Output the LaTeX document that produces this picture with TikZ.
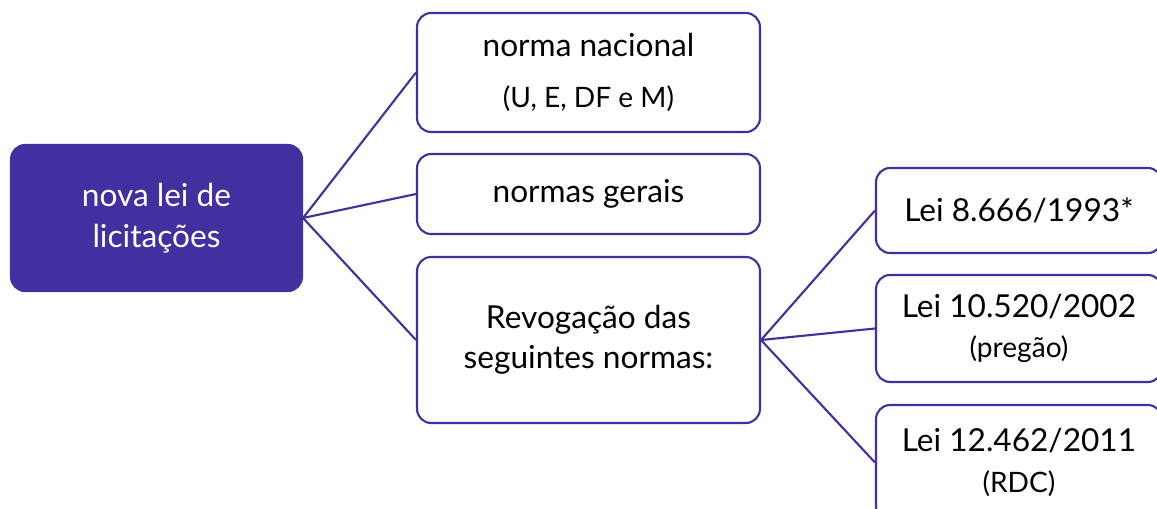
\documentclass[tikz,border=0pt]{standalone}
\usepackage{fontspec}
\setmainfont{Lato}
\definecolor{roxo}{HTML}{4230A0}
\tikzset{
    caixa/.style={draw=roxo, line width=1.2pt, rounded corners=8pt, fill=white,
        align=center, inner sep=2pt, font=\fontsize{18}{23}\selectfont},
    raiz/.style={caixa, fill=roxo, text=white},
    liga/.style={draw=roxo, line width=1.2pt}
}
\newcommand{\menor}{\fontsize{16}{19}\selectfont}
\begin{document}
\begin{tikzpicture}[x=0.02cm, y=-0.02cm]

            % the frame
            \useasboundingbox (0, 0) rectangle (1157, 508);
            \clip (0, 0) rectangle (1157, 508);

            % the root
            \node[raiz, minimum width=5.82cm, minimum height=2.92cm] (lei) at (156.5, 218) {nova lei de\\licitações};

            % the middle column
            \node[caixa, minimum width=6.86cm, minimum height=2.38cm] (nacional) at (588.5, 72.5) {norma nacional\\[6pt]{\menor (U, E, DF e M)}};
            \node[caixa, minimum width=6.86cm, minimum height=1.6cm] (gerais) at (588.5, 194) {normas gerais};
            \node[caixa, minimum width=6.86cm, minimum height=3.32cm] (revoga) at (588.5, 340) {Revogação das\\seguintes normas:};

            % the right column
            \node[caixa, minimum width=5.72cm, minimum height=1.7cm] (lei8666) at (1019, 210.5) {Lei 8.666/1993*};
            \node[caixa, minimum width=5.72cm, minimum height=2.14cm] (lei10520) at (1019, 328.5) {Lei 10.520/2002\\{\menor (pregão)}};
            \node[caixa, minimum width=5.72cm, minimum height=2.3cm] (lei12462) at (1019, 462.5) {Lei 12.462/2011\\{\menor (RDC)}};

            % the links
            \foreach \n in {nacional, gerais, revoga} {
                \draw[liga] (lei.east) -- (\n.west);
            };
            \foreach \n in {lei8666, lei10520, lei12462} {
                \draw[liga] (revoga.east) -- (\n.west);
            };
        \end{tikzpicture}
\end{document}
